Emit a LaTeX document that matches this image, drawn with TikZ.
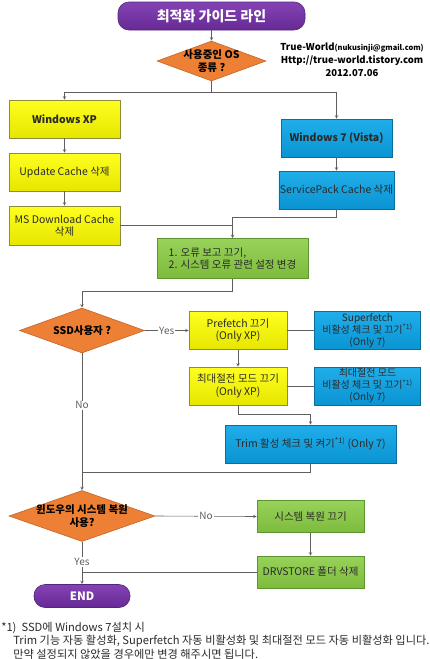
\documentclass[tikz,border=0pt]{standalone}
\usepackage{fontspec}
\setmainfont{Noto Sans CJK KR}
\usetikzlibrary{shapes.geometric,arrows,positioning}
\definecolor{linegray}{HTML}{5F5F5F}
\definecolor{purpletop}{HTML}{8443B4}
\definecolor{purplebot}{HTML}{672A94}
\definecolor{purpleline}{HTML}{55257A}
\definecolor{orangefill}{HTML}{EE8036}
\definecolor{orangeline}{HTML}{C0662A}
\definecolor{yellowtop}{HTML}{FFFF20}
\definecolor{yellowbot}{HTML}{E6E600}
\definecolor{yellowline}{HTML}{8C8C3A}
\definecolor{bluetop}{HTML}{20AEEA}
\definecolor{bluebot}{HTML}{0A94D2}
\definecolor{blueline}{HTML}{0B6E9E}
\definecolor{greentop}{HTML}{98D25A}
\definecolor{greenbot}{HTML}{7DBB3C}
\definecolor{greenline}{HTML}{5C9530}
\definecolor{boxtext}{HTML}{2A2A2A}

\begin{document}
\begin{tikzpicture}[x=1pt,y=-1pt, line width=0.6pt,
  every node/.style={font=\fontsize{10.5}{12.5}\selectfont, text=boxtext, align=center, inner sep=1pt},
  term/.style={draw=purpleline, top color=purpletop, bottom color=purplebot, rounded corners=11pt,
    text=white, font=\fontsize{14}{16}\selectfont\bfseries},
  decide/.style={diamond, draw=orangeline, fill=orangefill, inner sep=-8pt, aspect=2.7,
    text=black, font=\fontsize{10.5}{12.5}\selectfont\bfseries},
  xpbox/.style={draw=yellowline, top color=yellowtop, bottom color=yellowbot},
  sevenbox/.style={draw=blueline, top color=bluetop, bottom color=bluebot},
  commonbox/.style={draw=greenline, top color=greentop, bottom color=greenbot},
  flow/.style={draw=linegray, ->, >=stealth},
  link/.style={draw=linegray},
  answer/.style={fill=white, inner sep=1pt, text=linegray, font=\fontsize{10}{12}\selectfont}]

\useasboundingbox (0,0) rectangle (430,659);

\node[term, minimum width=187pt, minimum height=28pt] (title) at (211.5,16) {최적화 가이드 라인};
\node[decide, minimum width=109pt, minimum height=40pt] (os) at (211.5,61) {사용중인 OS\\종류 ?};
\node[font=\fontsize{9.5}{13}\selectfont\bfseries, text=black] (info) at (352,60)
  {True-World{\fontsize{7.5}{9}\selectfont(nukusinji@gmail.com)}\\Http://true-world.tistory.com\\2012.07.06};

\node[xpbox, minimum width=111pt, minimum height=38pt, font=\fontsize{10.5}{12.5}\selectfont\bfseries] (xp) at (64.5,119) {Windows XP};
\node[xpbox, minimum width=111pt, minimum height=38pt] (upd) at (64.5,172) {Update Cache 삭제};
\node[xpbox, minimum width=111pt, minimum height=39pt] (msdl) at (64.5,225.5) {MS Download Cache\\삭제};

\node[sevenbox, minimum width=111pt, minimum height=38pt, font=\fontsize{10.5}{12.5}\selectfont\bfseries] (w7) at (336.5,138) {Windows 7 (Vista)};
\node[sevenbox, minimum width=111pt, minimum height=38pt] (sp) at (336.5,190) {ServicePack Cache 삭제};

\node[commonbox, minimum width=151pt, minimum height=40pt, align=left] (err) at (232.5,258.5)
  {1. 오류 보고 끄기,\\2. 시스템 오류 관련 설정 변경};

\node[decide, minimum width=125pt, minimum height=45pt] (ssd) at (82,330.5) {SSD사용자 ?};
\node[xpbox, minimum width=98pt, minimum height=38pt] (pref) at (238,330.5) {Prefetch 끄기\\(Only XP)};
\node[sevenbox, minimum width=106pt, minimum height=38pt, inner sep=0pt, font=\fontsize{10}{12}\selectfont] (sfetch) at (367.5,330.5)
  {Superfetch\\비활성 체크 및 끄기\textsuperscript{*1)}\\(Only 7)};
\node[xpbox, minimum width=98pt, minimum height=38pt] (maxp) at (238,386) {최대절전 모드 끄기\\(Only XP)};
\node[sevenbox, minimum width=106pt, minimum height=38pt, inner sep=0pt, font=\fontsize{10}{12}\selectfont] (hib) at (367.5,386)
  {최대절전 모드\\비활성 체크 및 끄기\textsuperscript{*1)}\\(Only 7)};
\node[sevenbox, minimum width=171pt, minimum height=38pt] (trim) at (310.5,444) {Trim 활성 체크 및 켜기\textsuperscript{*1)} (Only 7)};

\node[decide, minimum width=146pt, minimum height=51pt] (rest) at (82,516) {윈도우의 시스템 복원\\사용?};
\node[commonbox, minimum width=107pt, minimum height=32pt] (rsoff) at (310.5,516.5) {시스템 복원 끄기};
\node[commonbox, minimum width=107pt, minimum height=32pt] (drv) at (310.5,572) {DRVSTORE 폴더 삭제};
\node[term, minimum width=96pt, minimum height=23pt, font=\fontsize{11.5}{13}\selectfont\bfseries] (end) at (82,596) {END};

\node[anchor=west, align=left, font=\fontsize{11.2}{12}\selectfont] (note1) at (0,627.5) {*1)\ \ SSD에 Windows 7설치 시};
\node[anchor=west, align=left, font=\fontsize{11.2}{12}\selectfont] (note2) at (12,641.5) {Trim 기능 자동 활성화, Superfetch 자동 비활성화 및 최대절전 모드 자동 비활성화 입니다.};
\node[anchor=west, align=left, font=\fontsize{11.2}{12}\selectfont] (note3) at (12,654.5) {만약 설정되지 않았을 경우에만 변경 해주시면 됩니다.};

\coordinate (osfork) at (211.5,92);
\coordinate (nojoin) at (82,472);

\draw[flow] (title) -- (os);
\draw[flow] (os.south) -- (osfork) -| (xp.north);
\draw[flow] (osfork) -| (w7.north);
\draw[flow] (xp) -- (upd);
\draw[flow] (upd) -- (msdl);
\draw[flow] (w7) -- (sp);
\draw[flow] (sp.south) -- ++(0,8) -| (err.north);
\draw[link] (msdl.east) -- (err.north |- msdl.east);
\draw[flow] (err.south) -- ++(0,12) -| (ssd.north);
\draw[flow] (ssd.east) -- node[answer] {Yes} (pref.west);
\draw[link] (pref) -- (sfetch);
\draw[link] (maxp) -- (hib);
\draw[flow] (pref) -- (maxp);
\draw[flow] (maxp.south) -- ++(0,9) -| (trim.north);
\draw[link] (trim.south) |- (nojoin);
\draw[flow] (ssd.south) -- node[answer, pos=0.38] {No} (rest.north);
\draw[flow] (rest.east) -- node[answer] {No} (rsoff.west);
\draw[flow] (rsoff) -- (drv);
\draw[link] (drv.west) -- (rest.south |- drv.west);
\draw[flow] (rest.south) -- node[answer, pos=0.48] {Yes} (end.north);
\end{tikzpicture}
\end{document}
